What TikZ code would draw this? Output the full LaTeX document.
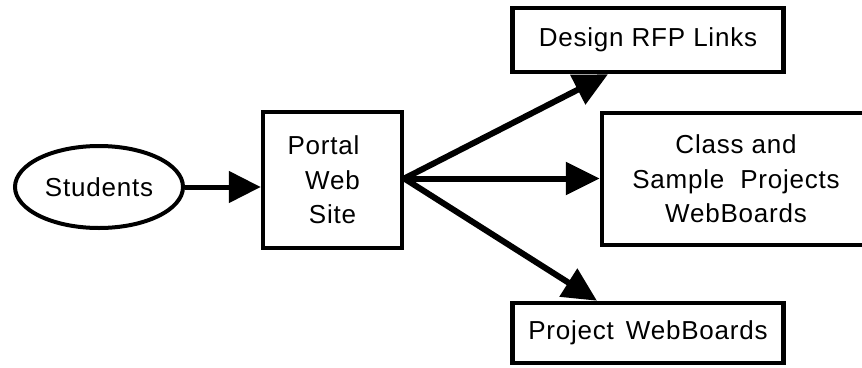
\documentclass[tikz,border=0pt]{standalone}
\usepackage{fontspec}
\setmainfont{Liberation Sans}[LetterSpace=3]
\usetikzlibrary{arrows.meta,shapes.geometric}

\tikzset{
  lbl/.style={font=\fontsize{26}{34.5}\selectfont, align=center, inner sep=0pt},
  boxnode/.style={lbl, draw, line width=4.5pt, rectangle},
  ovalnode/.style={lbl, draw, line width=4pt, ellipse},
  flow/.style={line width=5pt, -{Triangle[length=32pt,width=31pt]}},
  fan/.style={line width=6pt, -{Triangle[length=34pt,width=32pt]}}
}

\begin{document}
\begin{tikzpicture}[x=1pt, y=-1pt]
  \useasboundingbox (0,0) rectangle (862,367);

  % nodes
  \node[ovalnode, minimum width=168pt, minimum height=82pt] (students) at (99,187) {Students};
  \node[boxnode, minimum width=139pt, minimum height=136pt] (portal) at (332.5,180) {\hbox{Portal\kern18pt}\\Web\\Site};
  \node[boxnode, minimum width=271pt, minimum height=64pt] (design) at (648,40) {Design RFP Links};
  \node[boxnode, minimum width=268pt, minimum height=132pt] (classb) at (736,179) {Class and\\Sample\hspace{8pt} Projects\\WebBoards};
  \node[boxnode, minimum width=271pt, minimum height=60pt] (project) at (648,333) {Project\hspace{4pt} WebBoards};

  % the three links leave the portal from one point on its right side
  \coordinate (hub) at ([yshift=1.5pt]portal.east);

  % connectors
  \draw[flow] (students.east) -- (students.east -| portal.west);
  \draw[fan] (hub) -- ([xshift=-40pt]design.south);
  \draw[fan] (hub) -- (hub -| classb.west);
  \draw[fan] (hub) -- ([xshift=-51pt]project.north);
\end{tikzpicture}
\end{document}
